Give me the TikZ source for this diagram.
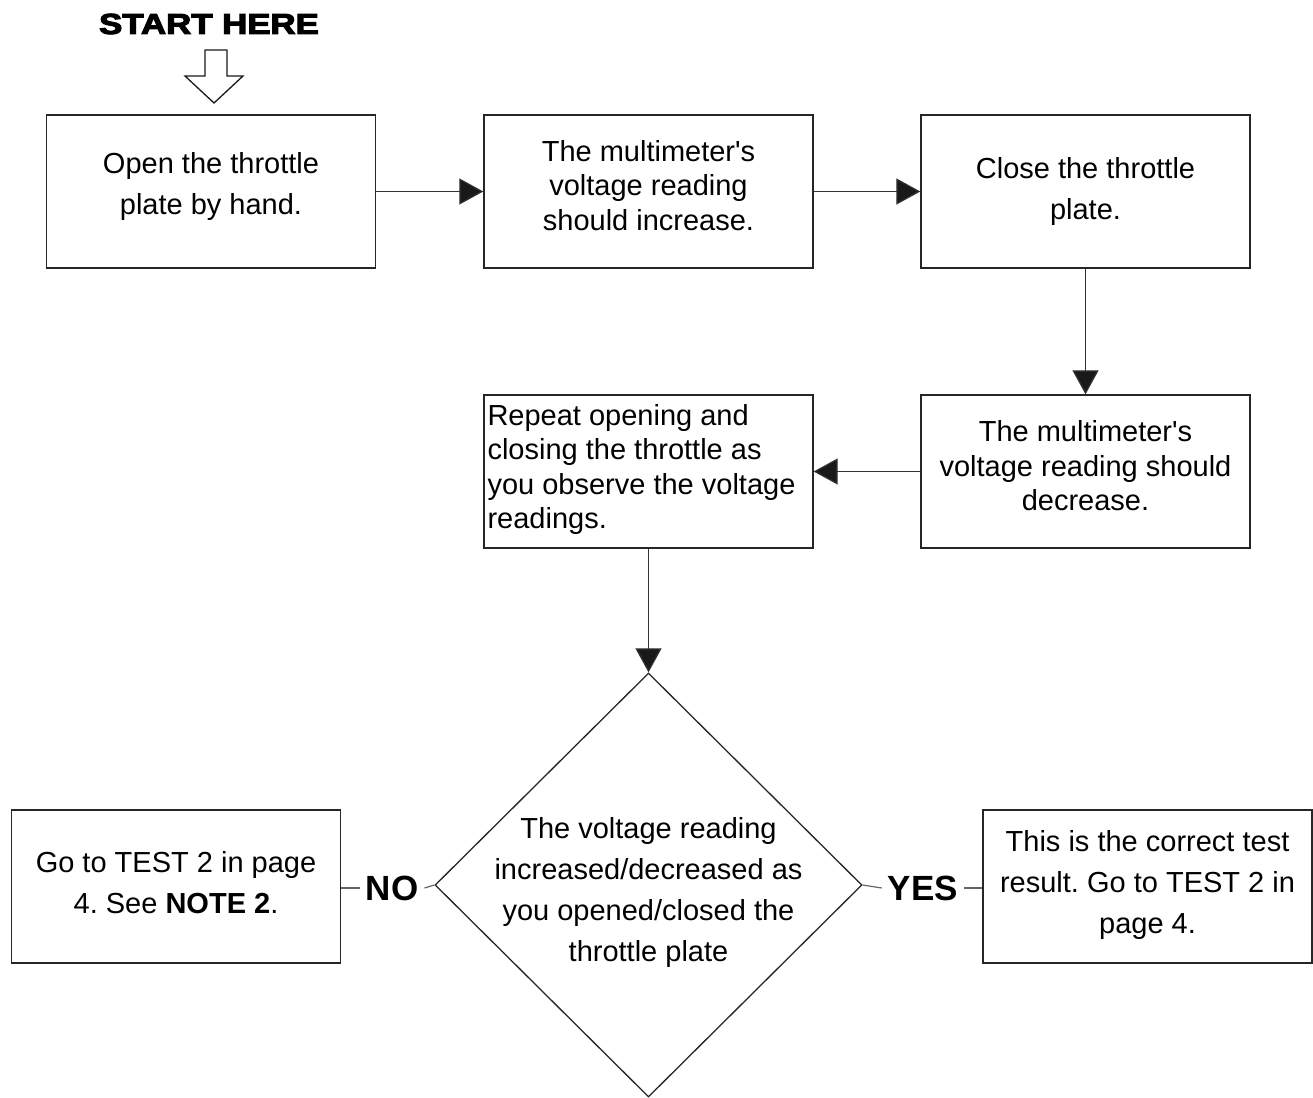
\documentclass[tikz,border=0pt]{standalone}
\usepackage{fontspec}
\setmainfont{Liberation Sans}[Ligatures=TeXOff]
\newfontfamily\heavyfont[FakeBold=3.5]{Liberation Sans Bold}
\usetikzlibrary{arrows.meta,shapes.geometric}
\begin{document}
\frenchspacing
\begin{tikzpicture}[x=1pt,y=-1pt,
  box/.style={draw=black!85,line width=1.3pt,minimum width=329pt,minimum height=153pt,inner sep=0pt},
  txt/.style={align=center,inner sep=0pt},
  wide/.style={font=\fontsize{29}{41}\selectfont},
  tight/.style={font=\fontsize{29}{34.5}\selectfont},
  conn/.style={draw=black!80,line width=1.2pt,-{Triangle[length=24pt,width=26pt,fill=black!90]}},
  plain/.style={draw=black!60,line width=1.2pt},
  lab/.style={font=\fontsize{35}{40}\selectfont\bfseries,inner sep=6pt}]
\useasboundingbox (0,0) rectangle (1313,1097);
\fill[white] (0,0) rectangle (1313,1097);
% start
\node (start) at (209,24) {\heavyfont\fontsize{29}{30}\selectfont\scalebox{1.2}[1]{START HERE}};
\draw[line width=1.3pt,draw=black!90,fill=white,line join=miter] (205,50) -- (227,50) -- (227,76) -- (243,76) -- (214,103) -- (185,76) -- (205,76) -- cycle;
% boxes
\node[box] (b1) at (211,191.5) {};
\node[txt,wide] (b1t) at ([yshift=5pt]b1) {Open the throttle\\plate by hand.};
\node[box] (b2) at (648.5,191.5) {};
\node[txt,tight] (b2t) at ([yshift=6pt]b2) {The multimeter's\\voltage reading\\should increase.};
\node[box] (b3) at (1085.5,191.5) {};
\node[txt,wide] (b3t) at (b3) {Close the throttle\\plate.};
\node[box] (b5) at (1085.5,471.5) {};
\node[txt,tight] (b5t) at ([yshift=5.5pt]b5) {The multimeter's\\voltage reading should\\decrease.};
\node[box] (b4) at (648.5,471.5) {};
\node[txt,tight,align=left,anchor=west] (b4t) at ([xshift=4pt,yshift=2pt]b4.west) {Repeat opening and\\closing the throttle as\\you observe the voltage\\readings.};
\node[box] (b6) at (176,886.5) {};
\node[txt,wide] (b6t) at ([yshift=4pt]b6) {Go to TEST 2 in page\\4. See \textbf{NOTE 2}.};
\node[box] (b7) at (1147.5,886.5) {};
\node[txt,wide] (b7t) at ([yshift=2pt]b7) {This is the correct test\\result. Go to TEST 2 in\\page 4.};
% decision
\node[diamond,draw=black!85,line width=1.3pt,minimum width=427pt,minimum height=424pt,inner sep=0pt] (dec) at (648.5,885) {};
\node[txt,wide] (dectext) at (648.5,892) {The voltage reading\\increased/decreased as\\you opened/closed the\\throttle plate};
% labels
\node[lab] (no) at (392,888) {NO};
\node[lab] (yes) at (923,888) {YES};
% connectors
\draw[conn] (b1.east) -- (b2.west);
\draw[conn] (b2.east) -- (b3.west);
\draw[conn] (b3.south) -- (b5.north);
\draw[conn] (b5.west) -- (b4.east);
\draw[conn] (b4.south) -- (dec.north);
\draw[plain] (b6.east |- no.west) -- (no.west);
\draw[plain] (no.east) -- (dec.west);
\draw[plain] (dec.east) -- (yes.west);
\draw[plain] (yes.east) -- (b7.west |- yes.east);
\end{tikzpicture}
\end{document}
